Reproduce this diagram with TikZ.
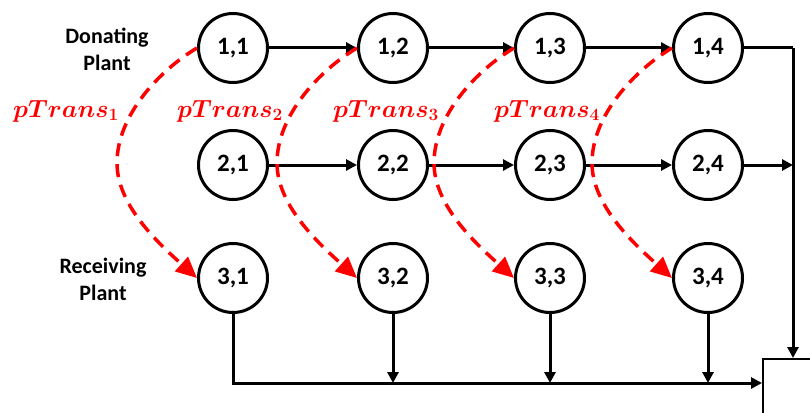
\documentclass[tikz,border=0pt]{standalone}
\usepackage{amsmath,bm}
\usepackage{fontspec}
\setmainfont{Carlito}
\usetikzlibrary{arrows.meta}

\begin{document}
\begin{tikzpicture}[x=1pt,y=-1pt,
  state/.style={circle,draw,line width=3pt,minimum size=69pt,inner sep=0pt,
    font=\fontsize{25}{25}\selectfont\bfseries},
  flow/.style={line width=3pt,-{Triangle[length=11pt,width=11pt]}},
  wire/.style={line width=3pt},
  trans/.style={red,line width=3.5pt,dash pattern=on 13pt off 8pt,
    -{Triangle[length=21pt,width=19pt]}},
  lbl/.style={red,inner sep=0pt,font=\fontsize{24}{24}\selectfont},
  side/.style={align=center,inner sep=0pt,font=\fontsize{22}{27}\selectfont\bfseries}]

\useasboundingbox (0,0) rectangle (810,412);

% plant states: row 1 donating, row 2 intermediate, row 3 receiving
\foreach \c/\x in {1/233,2/393,3/550,4/708} {
  \node[state] (n1\c) at (\x,48) {1,\c};
  \node[state] (n2\c) at (\x,165) {2,\c};
  \node[state] (n3\c) at (\x,278) {3,\c};
}

\node[side] (don) at (107,49) {Donating\\Plant};
\node[side] (rec) at (103,279) {Receiving\\Plant};

% collecting box at the lower right
\node[draw,line width=2.2pt,minimum width=90pt,minimum height=90pt,anchor=north west,inner sep=0pt] (sink) at (762,358) {};

% forward transitions along rows 1 and 2
\foreach \a/\b in {1/2,2/3,3/4} {
  \draw[flow] (n1\a) -- (n1\b);
  \draw[flow] (n2\a) -- (n2\b);
}

% right-hand collector
\coordinate (rt) at (793,48);
\draw[wire] (n14) -- (rt);
\draw[flow] (rt) -- (rt |- sink.north);
\draw[flow] (n24) -- (n24 -| rt);

% bottom bus
\coordinate (bus) at (762,383);
\draw[flow] (n31) |- (bus);
\foreach \c in {2,3,4} {
  \draw[flow] (n3\c) -- (n3\c |- bus);
}

% transfer arcs from donating to receiving plant
\foreach \c/\x in {1/233,2/393,3/550,4/708} {
  \draw[trans] (n1\c.west) .. controls (\x-73,70) and (\x-116,115) .. (\x-116,163)
     .. controls (\x-116,205) and (\x-75,243) .. (n3\c.west);
}

\foreach \c/\x in {1/66,2/230,3/386,4/547} {
  \node[lbl] (p\c) at (\x,111)
    {$\bm{pTrans}_{\text{\fontsize{17}{17}\selectfont$\bm{\c}$}}$};
}
\end{tikzpicture}
\end{document}
